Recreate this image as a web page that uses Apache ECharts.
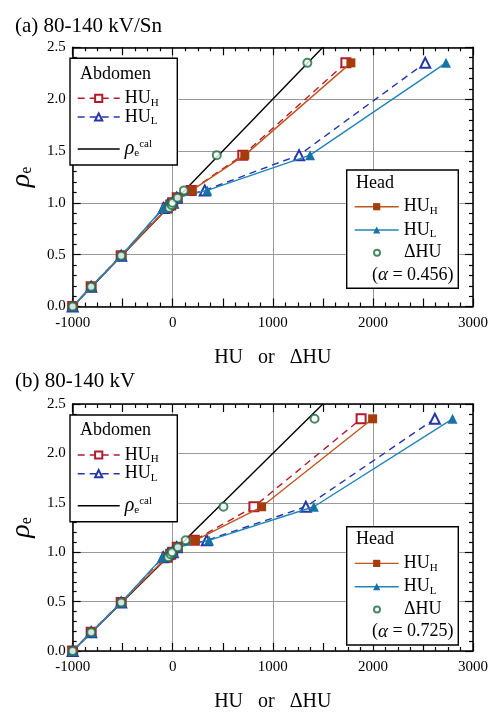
<!DOCTYPE html>
<html>
<head>
<meta charset="utf-8">
<script src="https://cdn.jsdelivr.net/npm/echarts@6/dist/echarts.min.js"></script>
<style>
html, body { margin: 0; padding: 0; background: #fff; }
#chart { width: 491px; height: 713px; }
</style>
</head>
<body>
<div id="chart"></div>
<script>
// 电子密度 rho_e（两幅图共用的纵坐标值）
var rhoE = [0.00, 0.19, 0.49, 0.95, 0.98, 1.00, 1.05, 1.12, 1.46, 2.35];

// (a) 80-140 kV/Sn
var aHeadH = [-1000, -815, -515, -55, -20, 0, 45, 190, 720, 1780];
var aHeadL = [-1000, -815, -515, -95, -55, 0, 40, 345, 1372, 2730];
var aAbdH  = [-1000, -815, -515, -55, -20, 0, 45, 185, 700, 1730];
var aAbdL  = [-1000, -815, -515, -90, -50, 0, 40, 320, 1262, 2523];
var aDHU   = [-1000, -815, -515, -35, -10, -3, 48, 112, 440, 1345];

// (b) 80-140 kV
var bHeadH = [-1000, -815, -515, -60, -25, 0, 50, 225, 888, 1997];
var bHeadL = [-1000, -815, -515, -100, -55, 0, 45, 362, 1410, 2795];
var bAbdH  = [-1000, -815, -515, -55, -20, 0, 45, 215, 811, 1882];
var bAbdL  = [-1000, -815, -515, -95, -50, 0, 40, 340, 1330, 2619];
var bDHU   = [-1000, -815, -515, -45, -20, -7, 51, 129, 507, 1417];

// 校准线 rho_e^cal
var calHU = [-1000, 1500];
var calRho = [0, 2.5];

// 刻度标签
var xTickLabels = [-1000, 0, 1000, 2000, 3000];
var yTickLabels = [0, 0.5, 1.0, 1.5, 2.0, 2.5];

var FONT = 'Liberation Serif';
var chart = echarts.init(document.getElementById('chart'));

function zip(xs, ys) {
  return xs.map(function (x, i) { return [x, ys[i]]; });
}

// 图例文字（带上下标）
var labelText = {
  abdH: 'HU{sub|H}',
  abdL: 'HU{sub|L}',
  cal: '{rho|ρ}{sub|e}{sup|cal}',
  headH: 'HU{sub|H}',
  headL: 'HU{sub|L}',
  dHU: '{gap|}ΔHU'
};
var richText = {
  sub: { fontFamily: FONT, fontSize: 11, lineHeight: 8, verticalAlign: 'bottom', color: '#000' },
  sup: { fontFamily: FONT, fontSize: 11, lineHeight: 2, verticalAlign: 'top', color: '#000' },
  rho: { fontFamily: FONT, fontSize: 20, fontStyle: 'italic', lineHeight: 20, color: '#000' },
  gap: { width: 19 }
};

function axesFor(gi) {
  var tickStyle = { color: '#000', width: 1.2 };
  var x = [{
    gridIndex: gi, type: 'value', min: -1000, max: 3000, interval: 500, position: 'bottom',
    axisLine: { show: true, onZero: false, lineStyle: { color: '#000', width: 1.5 } },
    axisTick: { show: true, inside: true, length: 8, lineStyle: tickStyle },
    minorTick: { show: true, splitNumber: 4, length: 4, lineStyle: tickStyle },
    splitLine: { show: true, lineStyle: { color: ['#9a9a9a', 'rgba(0,0,0,0)'], width: 1 } },
    axisLabel: {
      margin: 9, fontFamily: FONT, fontSize: 15, color: '#000',
      formatter: function (v) { return xTickLabels.indexOf(v) >= 0 ? String(v) : ''; }
    },
    name: 'HU   or   ΔHU', nameLocation: 'middle', nameGap: 41,
    nameTextStyle: { fontFamily: FONT, fontSize: 20, color: '#000' }
  }, {
    gridIndex: gi, type: 'value', min: -1000, max: 3000, interval: 500, position: 'top',
    axisLine: { show: true, onZero: false, lineStyle: { color: '#000', width: 1.5 } },
    axisTick: { show: true, inside: true, length: 8, lineStyle: tickStyle },
    minorTick: { show: true, splitNumber: 4, length: 4, lineStyle: tickStyle },
    splitLine: { show: false }, axisLabel: { show: false }
  }];
  var y = [{
    gridIndex: gi, type: 'value', min: 0, max: 2.5, interval: 0.5, position: 'left',
    axisLine: { show: true, onZero: false, lineStyle: { color: '#000', width: 1.5 } },
    axisTick: { show: true, inside: true, length: 8, lineStyle: tickStyle },
    minorTick: { show: true, splitNumber: 5, length: 4, lineStyle: tickStyle },
    splitLine: { show: true, lineStyle: { color: '#9a9a9a', width: 1 } },
    axisLabel: {
      margin: 7, fontFamily: FONT, fontSize: 15, color: '#000',
      formatter: function (v) { return yTickLabels.indexOf(v) >= 0 ? v.toFixed(1) : ''; }
    },
    name: '{rho|ρ}{sub|e}', nameLocation: 'middle', nameGap: 35, nameRotate: 90,
    nameTextStyle: {
      fontFamily: FONT, fontSize: 22, color: '#000',
      rich: {
        rho: { fontFamily: FONT, fontSize: 28, fontStyle: 'italic', color: '#000', lineHeight: 26 },
        sub: { fontFamily: FONT, fontSize: 16, color: '#000', lineHeight: 10, verticalAlign: 'bottom' }
      }
    }
  }, {
    gridIndex: gi, type: 'value', min: 0, max: 2.5, interval: 0.5, position: 'right',
    axisLine: { show: true, onZero: false, lineStyle: { color: '#000', width: 1.5 } },
    axisTick: { show: true, inside: true, length: 8, lineStyle: tickStyle },
    minorTick: { show: true, splitNumber: 5, length: 4, lineStyle: tickStyle },
    splitLine: { show: false }, axisLabel: { show: false }
  }];
  return { x: x, y: y };
}

function seriesFor(p, gi, d) {
  var xi = gi * 2, yi = gi * 2;
  return [{
    name: p + 'cal', type: 'line', xAxisIndex: xi, yAxisIndex: yi, z: 2,
    data: zip(calHU, calRho), symbol: 'none',
    lineStyle: { color: '#000', width: 1.4 }, itemStyle: { color: '#000' }
  }, {
    name: p + 'abdH', type: 'line', xAxisIndex: xi, yAxisIndex: yi, z: 3,
    data: zip(d.abdH, rhoE), symbol: 'emptyRect', symbolSize: 9,
    lineStyle: { color: '#b31b2c', width: 1.4, type: [7, 5] },
    itemStyle: { color: '#b31b2c', borderWidth: 1.3 }
  }, {
    name: p + 'abdL', type: 'line', xAxisIndex: xi, yAxisIndex: yi, z: 3,
    data: zip(d.abdL, rhoE), symbol: 'emptyTriangle', symbolSize: 10,
    lineStyle: { color: '#2537a6', width: 1.4, type: [7, 5] },
    itemStyle: { color: '#2537a6', borderWidth: 1.3 }
  }, {
    name: p + 'headH', type: 'line', xAxisIndex: xi, yAxisIndex: yi, z: 4,
    data: zip(d.headH, rhoE), symbol: 'rect', symbolSize: 9,
    lineStyle: { color: '#c0561f', width: 1.4 },
    itemStyle: { color: '#a63c0c' }
  }, {
    name: p + 'headL', type: 'line', xAxisIndex: xi, yAxisIndex: yi, z: 4,
    data: zip(d.headL, rhoE), symbol: 'triangle', symbolSize: 10,
    lineStyle: { color: '#2184b8', width: 1.4 },
    itemStyle: { color: '#1673a8' }
  }, {
    name: p + 'dHU', type: 'scatter', xAxisIndex: xi, yAxisIndex: yi, z: 6,
    data: zip(d.dHU, rhoE), symbol: 'emptyCircle', symbolSize: 8,
    itemStyle: { color: '#1d6b3f', borderWidth: 1.5 }
  }];
}

function legendItem(name, left, center, iw, ih, extra) {
  var lg = {
    show: true, z: 20, left: left, top: center - 10, orient: 'vertical', padding: 0,
    itemWidth: iw, itemHeight: ih, itemGap: 0, data: [name], selectedMode: false,
    formatter: function (n) { return labelText[n.slice(2)]; },
    lineStyle: { width: 1.4 },
    textStyle: { fontFamily: FONT, fontSize: 18, lineHeight: 20, color: '#000', rich: richText }
  };
  return Object.assign(lg, extra || {});
}

function legendsFor(p, dy) {
  return [
    legendItem(p + 'abdH', 77, 98.3 + dy, 42, 9),
    legendItem(p + 'abdL', 77, 117 + dy, 42, 9),
    // 校准线图例只画线，不画点
    legendItem(p + 'cal', 77, 149 + dy, 42, 9, { itemStyle: { opacity: 0 } }),
    legendItem(p + 'headH', 354, 206.7 + dy, 44, 9),
    legendItem(p + 'headL', 354, 230 + dy, 44, 9),
    legendItem(p + 'dHU', 373, 252.7 + dy, 6, 6)
  ];
}

function boxesFor(dy, alpha) {
  var t = { fontFamily: FONT, fontSize: 18, fill: '#000', verticalAlign: 'middle' };
  return [
    { type: 'rect', shape: { x: 70, y: 58.3 + dy, width: 107.3, height: 106.7 },
      style: { fill: '#fff', stroke: '#000', lineWidth: 1.4 }, z: 10 },
    { type: 'text', x: 80, y: 74 + dy, z: 11, style: Object.assign({ text: 'Abdomen' }, t) },
    { type: 'rect', shape: { x: 346.7, y: 170 + dy, width: 111.6, height: 118.3 },
      style: { fill: '#fff', stroke: '#000', lineWidth: 1.4 }, z: 10 },
    { type: 'text', x: 356, y: 183 + dy, z: 11, style: Object.assign({ text: 'Head' }, t) },
    { type: 'text', x: 372, y: 275 + dy, z: 11, style: Object.assign({
        text: '({a|α} = ' + alpha + ')',
        rich: { a: { fontFamily: FONT, fontSize: 19, fontStyle: 'italic', fill: '#000' } }
      }, t) }
  ];
}

var axA = axesFor(0), axB = axesFor(1);
var DY = 356.7;

var option = {
  animation: false,
  backgroundColor: '#fff',
  title: [
    { text: '(a) 80-140 kV/Sn', left: 10, top: 11, textStyle: { fontFamily: FONT, fontSize: 21, fontWeight: 'normal', color: '#000' } },
    { text: '(b) 80-140 kV', left: 10, top: 366, textStyle: { fontFamily: FONT, fontSize: 21, fontWeight: 'normal', color: '#000' } }
  ],
  grid: [
    { left: 59.3, top: 47.3, width: 415.7, height: 259.2 },
    { left: 59.3, top: 404, width: 415.7, height: 258.3 }
  ],
  xAxis: axA.x.concat(axB.x),
  yAxis: axA.y.concat(axB.y),
  legend: legendsFor('a-', 0).concat(legendsFor('b-', DY)),
  graphic: { elements: boxesFor(0, '0.456').concat(boxesFor(DY, '0.725')) },
  series: seriesFor('a-', 0, { abdH: aAbdH, abdL: aAbdL, headH: aHeadH, headL: aHeadL, dHU: aDHU })
    .concat(seriesFor('b-', 1, { abdH: bAbdH, abdL: bAbdL, headH: bHeadH, headL: bHeadL, dHU: bDHU }))
};

chart.setOption(option);
</script>
</body>
</html>
